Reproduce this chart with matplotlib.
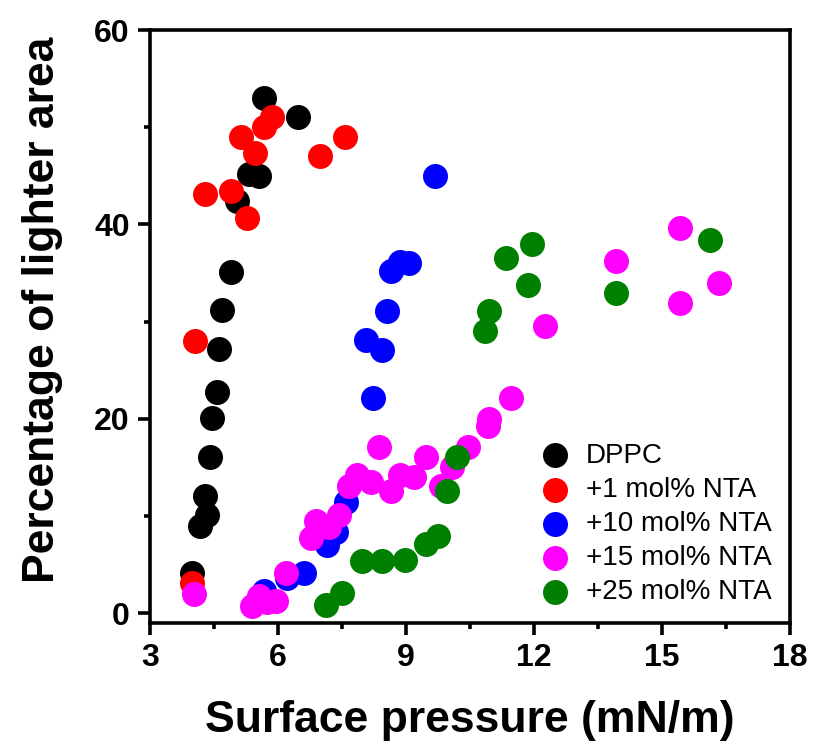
import matplotlib
matplotlib.use("Agg")
import matplotlib.pyplot as plt

plt.rcParams['font.family'] = ['Liberation Sans', 'DejaVu Sans']

# surface pressure (mN/m) and percentage of lighter area
dppc_x = [3.98, 4.17, 4.33, 4.30, 4.40, 4.45, 4.56, 4.61, 4.68, 4.89, 5.03, 5.33, 5.56, 5.68, 6.47]
dppc_y = [4.1, 9.0, 10.1, 12.1, 16.1, 20.1, 22.8, 27.2, 31.2, 35.1, 42.4, 45.2, 45.0, 53.0, 51.1]

nta1_x = [3.98, 4.05, 4.28, 4.89, 5.28, 5.14, 5.47, 5.68, 5.87, 6.99, 7.57]
nta1_y = [3.1, 28.0, 43.1, 43.4, 40.7, 49.0, 47.4, 50.0, 51.1, 47.0, 49.0]

nta10_x = [5.68, 6.22, 6.61, 7.15, 7.36, 7.59, 8.22, 8.43, 8.06, 8.55, 8.66, 8.87, 9.06, 9.67]
nta10_y = [2.3, 3.6, 4.1, 7.0, 8.4, 11.5, 22.1, 27.1, 28.1, 31.1, 35.2, 36.1, 36.0, 45.0]

nta15_x = [4.02, 5.40, 5.56, 5.75, 5.96, 6.19, 6.78, 6.89, 7.20, 7.43, 7.66, 7.85, 8.17,
           8.36, 8.66, 8.87, 9.18, 9.48, 9.83, 10.08, 10.46, 10.93, 10.95, 11.46, 12.25,
           13.93, 15.42, 15.42, 16.33]
nta15_y = [2.0, 0.7, 1.8, 1.2, 1.3, 4.1, 7.7, 9.5, 8.9, 10.1, 13.1, 14.2, 13.5,
           17.1, 12.6, 14.2, 14.0, 16.1, 13.1, 15.1, 17.1, 19.3, 20.0, 22.1, 29.6,
           36.2, 39.6, 31.9, 34.0]

nta25_x = [7.13, 7.50, 7.97, 8.43, 8.97, 9.46, 9.76, 9.95, 10.20, 10.86, 10.95, 11.35,
           11.86, 11.95, 13.93, 16.12]
nta25_y = [0.9, 2.1, 5.4, 5.4, 5.5, 7.1, 8.0, 12.6, 16.1, 29.0, 31.1, 36.5,
           33.8, 38.0, 33.0, 38.4]

series = [
    (dppc_x, dppc_y, 'black', 'DPPC'),
    (nta1_x, nta1_y, 'red', '+1 mol% NTA'),
    (nta10_x, nta10_y, 'blue', '+10 mol% NTA'),
    (nta15_x, nta15_y, 'magenta', '+15 mol% NTA'),
    (nta25_x, nta25_y, 'green', '+25 mol% NTA'),
]

fig = plt.figure(figsize=(8.13, 7.49), dpi=100)
ax = fig.add_axes([0.1845, 0.1682, 0.7872, 0.7917])

for x, y, c, lab in series:
    ax.scatter(x, y, s=324, c=c, linewidths=0, label=lab)

ax.set_xlim(3, 18)
ax.set_ylim(-1.0, 60)
ax.set_xticks([3, 6, 9, 12, 15, 18])
ax.set_xticks([4.5, 7.5, 10.5, 13.5, 16.5], minor=True)
ax.set_yticks([0, 20, 40, 60])
ax.set_yticks([10, 30, 50], minor=True)

for s in ax.spines.values():
    s.set_linewidth(2.6)
ax.tick_params(which='major', length=8.5, width=2.6, labelsize=23, pad=6)
ax.tick_params(which='minor', length=4.5, width=2.6)
for t in ax.get_xticklabels() + ax.get_yticklabels():
    t.set_fontweight('bold')

ax.set_xlabel('Surface pressure (mN/m)', fontsize=32, fontweight='bold', labelpad=19)
ax.set_ylabel('Percentage of lighter area', fontsize=32, fontweight='bold')
ax.yaxis.set_label_coords(-0.136, 0.528)

ax.legend(loc='upper left', bbox_to_anchor=(0.612, 0.304), frameon=False,
          fontsize=20, handlelength=0.95, handletextpad=0.65, labelspacing=0.29,
          borderpad=0, borderaxespad=0, scatterpoints=1)

fig.savefig('out.png', dpi=100)
